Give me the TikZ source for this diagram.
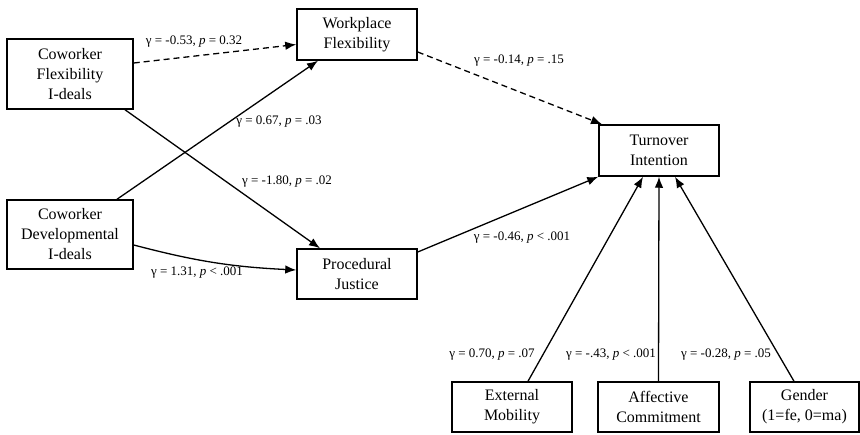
\documentclass[tikz,border=0pt]{standalone}
\usepackage{fontspec}
\setmainfont{Liberation Serif}
\usetikzlibrary{arrows.meta,positioning}

\begin{document}
\begin{tikzpicture}[x=1pt, y=-1pt,
    var/.style={rectangle, draw, line width=1.5pt, align=center, inner sep=0pt, font=\fontsize{16}{20}\selectfont},
    lbl/.style={inner sep=0pt, font=\fontsize{13}{15}\selectfont},
    ar/.style={line width=1.3pt, -{Latex[length=11pt, width=8.5pt]}},
    dar/.style={ar, dash pattern=on 6pt off 4pt}]
    \useasboundingbox (0,0) rectangle (860,435);
    \node [var, minimum width=126pt, minimum height=70pt] (cfi) at (70,74) {Coworker\\Flexibility\\I-deals};
    \node [var, minimum width=126pt, minimum height=69pt] (cdi) at (70,234.5) {Coworker\\Developmental\\I-deals};
    \node [var, minimum width=120pt, minimum height=51pt] (wf) at (357,34.5) {Workplace\\Flexibility};
    \node [var, minimum width=120pt, minimum height=50pt] (pj) at (357,274) {Procedural\\Justice};
    \node [var, minimum width=120pt, minimum height=51pt] (ti) at (659,150.5) {Turnover\\Intention};
    \node [var, minimum width=120pt, minimum height=50pt] (em) at (512,407) {External\\Mobility};
    \node [var, minimum width=121pt, minimum height=50pt] (ac) at (658.5,407) {Affective\\Commitment};
    \node [var, minimum width=109pt, minimum height=50pt] (gd) at (804.5,407) {Gender\\(1=fe, 0=ma)};
    % paths
    \draw [dar] ([yshift=11pt]cfi.east) -- ([yshift=-10pt]wf.west);
    \draw [ar] ([xshift=55pt]cfi.south) -- ([xshift=-37pt]pj.north);
    \draw [ar] ([xshift=47pt]cdi.north) -- ([xshift=-39pt]wf.south);
    \draw [ar] ([yshift=-10.5pt]cdi.east) to [bend right=6] ([yshift=4pt]pj.west);
    \draw [dar] ([yshift=-17.5pt]wf.east) -- ([xshift=-57pt]ti.north);
    \draw [ar] ([yshift=22pt]pj.east) -- (ti.south west);
    \draw [ar] ([xshift=16pt]em.north) -- ([xshift=-16pt]ti.south);
    \draw [ar] (ac.north) -- (ti.south);
    \draw [ar] ([xshift=-10.5pt]gd.north) -- ([xshift=16pt]ti.south);
    % coefficients
    \node [lbl] (l1) at (194,42) {γ = -0.53, \textit{p} = 0.32};
    \node [lbl] (l2) at (279,122) {γ = 0.67, \textit{p} = .03};
    \node [lbl] (l3) at (287,182) {γ = -1.80, \textit{p} = .02};
    \node [lbl] (l4) at (197,273) {γ = 1.31, \textit{p} < .001};
    \node [lbl] (l5) at (519,61) {γ = -0.14, \textit{p} = .15};
    \node [lbl] (l6) at (522,238) {γ = -0.46, \textit{p} < .001};
    \node [lbl] (l7) at (492,355) {γ = 0.70, \textit{p} = .07};
    \node [lbl] (l8) at (611,355) {γ = -.43, \textit{p} < .001};
    \node [lbl] (l9) at (726,355) {γ = -0.28, \textit{p} = .05};
\end{tikzpicture}
\end{document}
